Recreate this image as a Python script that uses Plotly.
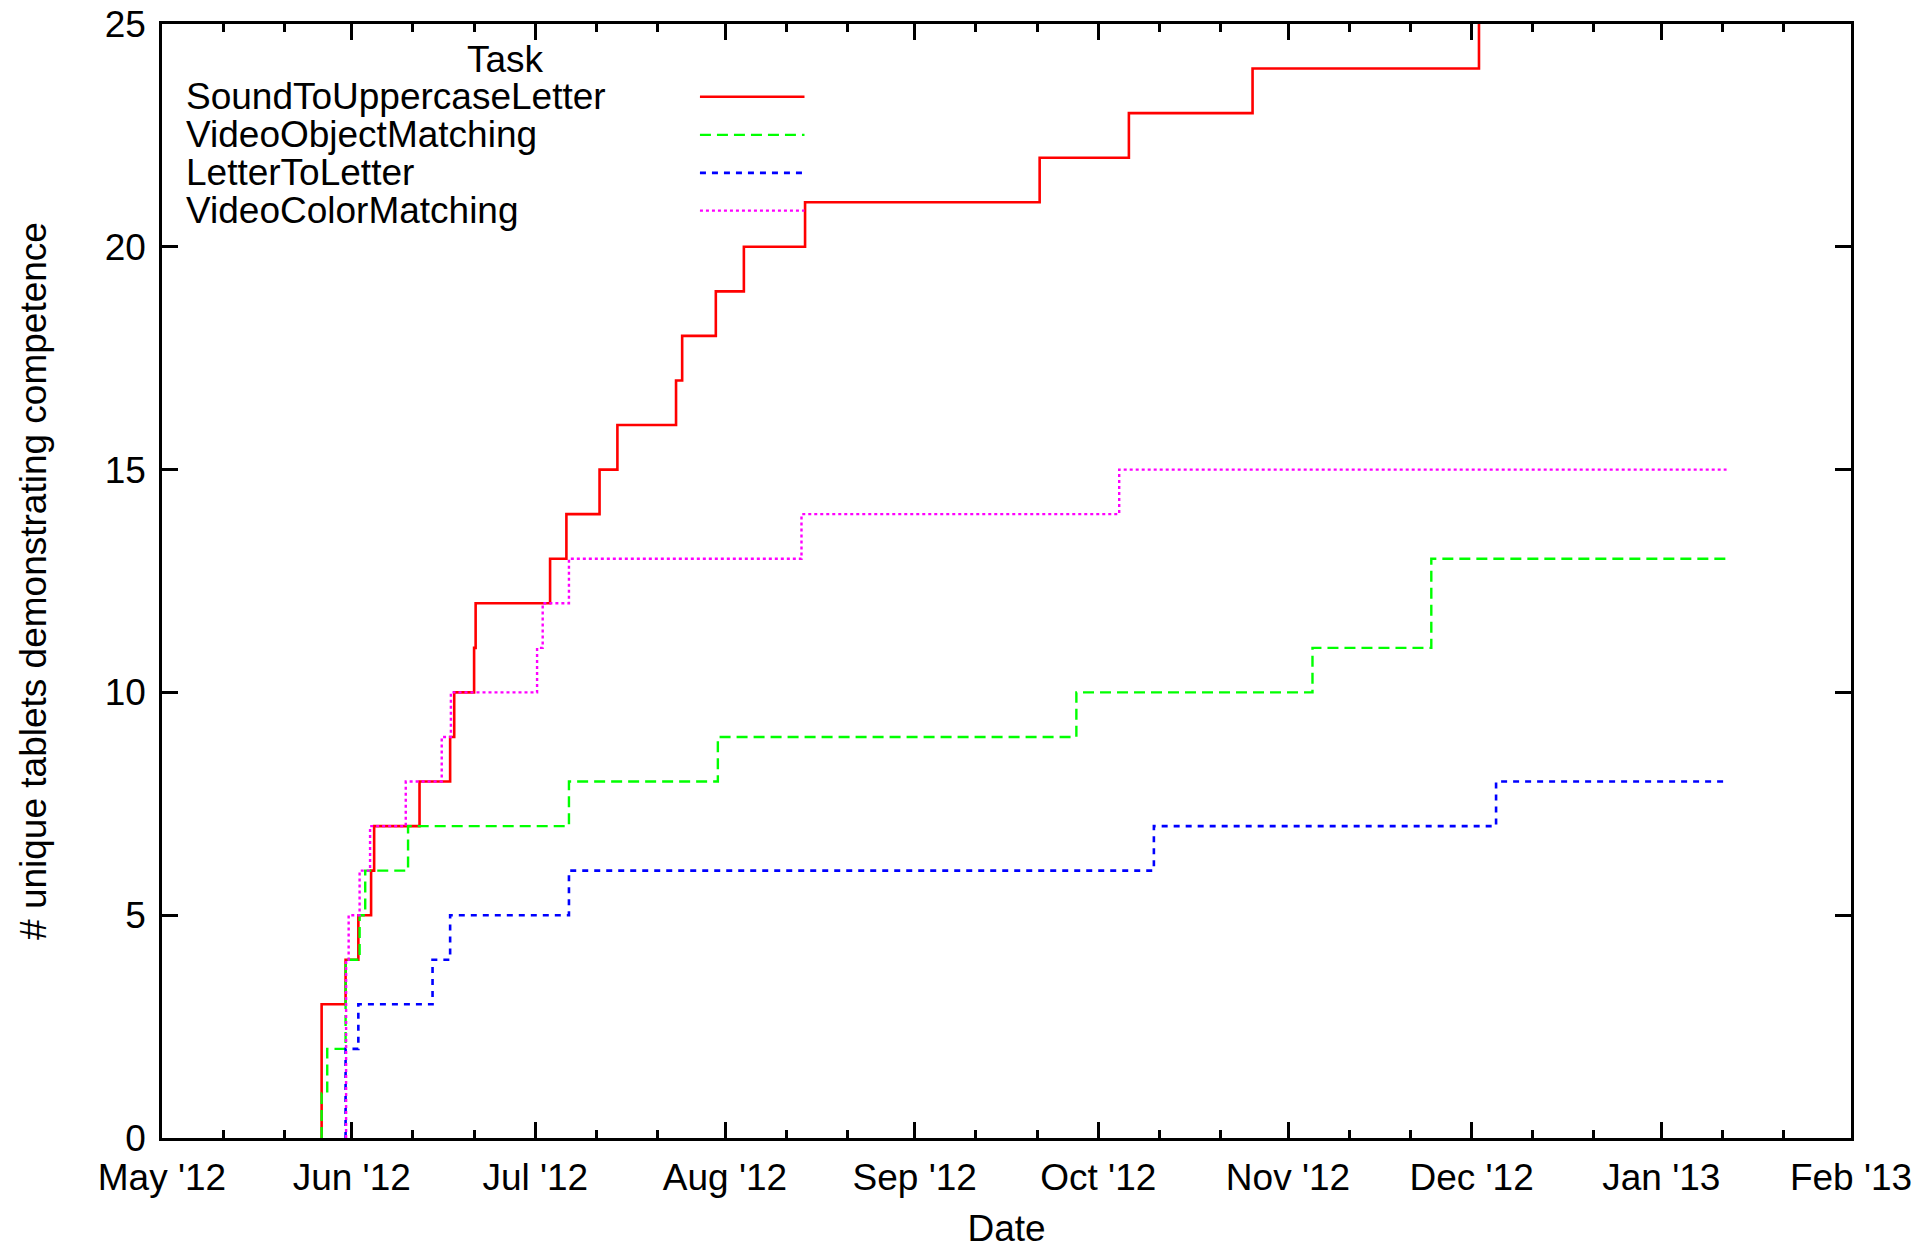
import plotly.graph_objects as go

# ---------------- data ----------------
sound_dates = ["2012-05-27 02:00", "2012-05-27 02:00", "2012-05-31 00:00", "2012-06-02 02:00",
               "2012-06-04 04:00", "2012-06-04 16:00", "2012-06-12 02:00", "2012-06-17 02:00",
               "2012-06-17 18:00", "2012-06-21 00:00", "2012-06-21 06:00", "2012-07-03 10:00",
               "2012-07-06 02:00", "2012-07-11 12:00", "2012-07-14 10:00", "2012-07-24 00:00",
               "2012-07-25 00:00", "2012-07-30 12:00", "2012-08-04 02:00", "2012-08-14 02:00",
               "2012-09-21 10:00", "2012-10-06 00:00", "2012-10-26 05:00", "2012-12-02 05:00"]
sound_vals = [0, 3, 4, 5, 6, 7, 8, 9, 10, 11, 12, 13, 14, 15, 16, 17, 18, 19, 20, 21,
              22, 23, 24, 25]

object_dates = ["2012-05-27 02:00", "2012-05-27 02:00", "2012-05-28 00:00", "2012-05-31 00:00",
                "2012-06-02 07:00", "2012-06-03 05:00", "2012-06-10 05:00", "2012-07-06 12:00",
                "2012-07-30 20:00", "2012-09-27 10:00", "2012-11-05 00:00", "2012-11-24 10:00",
                "2013-01-11 16:00"]
object_vals = [0, 1, 2, 4, 5, 6, 7, 8, 9, 10, 11, 13, 13]

letter_dates = ["2012-05-31 00:00", "2012-05-31 00:00", "2012-06-02 02:00", "2012-06-14 05:00",
                "2012-06-17 02:00", "2012-07-06 12:00", "2012-10-10 02:00", "2012-12-05 00:00",
                "2013-01-11 16:00"]
letter_vals = [0, 2, 3, 4, 5, 6, 7, 8, 8]

color_dates = ["2012-05-31 02:00", "2012-05-31 02:00", "2012-05-31 12:00", "2012-06-02 07:00",
               "2012-06-04 00:00", "2012-06-09 20:00", "2012-06-15 17:00", "2012-06-17 05:00",
               "2012-07-01 07:00", "2012-07-02 05:00", "2012-07-06 12:00", "2012-08-13 12:00",
               "2012-10-04 10:00", "2013-01-11 16:00"]
color_vals = [0, 4, 5, 6, 7, 8, 9, 10, 11, 12, 13, 14, 15, 15]

task_names = ["SoundToUppercaseLetter", "VideoObjectMatching", "LetterToLetter", "VideoColorMatching"]

month_ticks = ["2012-05-01", "2012-06-01", "2012-07-01", "2012-08-01", "2012-09-01",
               "2012-10-01", "2012-11-01", "2012-12-01", "2013-01-01", "2013-02-01"]
month_labels = ["May '12", "Jun '12", "Jul '12", "Aug '12", "Sep '12",
                "Oct '12", "Nov '12", "Dec '12", "Jan '13", "Feb '13"]
minor_ticks = ["2012-05-11", "2012-05-21", "2012-06-11", "2012-06-21", "2012-07-11", "2012-07-21",
               "2012-08-11", "2012-08-21", "2012-09-11", "2012-09-21", "2012-10-11", "2012-10-21",
               "2012-11-11", "2012-11-21", "2012-12-11", "2012-12-21", "2013-01-11", "2013-01-21"]
y_ticks = [0, 5, 10, 15, 20, 25]

# ---------------- styles ----------------
FONT = "Liberation Sans, Arial, Helvetica, sans-serif"
styles = [
    dict(color="#ff0000", dash="solid", width=2.6),
    dict(color="#00ff00", dash="11px,6px", width=2.4),
    dict(color="#0000ff", dash="6px,6px", width=2.6),
    dict(color="#ff00ff", dash="3px,3px", width=2.4),
]
series = [(sound_dates, sound_vals), (object_dates, object_vals),
          (letter_dates, letter_vals), (color_dates, color_vals)]

fig = go.Figure()
for (d, v), name, st in zip(series, task_names, styles):
    fig.add_trace(go.Scatter(x=d, y=v, mode="lines", name=name, line_shape="hv",
                             line=st, showlegend=False))

# gnuplot-like key: title, text on left, sample line on right
key_y = [0.9347, 0.9005, 0.8664, 0.8325]
annotations = [dict(text="Task", x=0.2035, y=0.9677, xref="paper", yref="paper",
                    xanchor="center", yanchor="middle", showarrow=False,
                    font=dict(family=FONT, size=37, color="black"))]
shapes = []
for name, st, ky in zip(task_names, styles, key_y):
    annotations.append(dict(text=name, x=0.0128, y=ky, xref="paper", yref="paper",
                            xanchor="left", yanchor="middle", showarrow=False,
                            font=dict(family=FONT, size=37, color="black")))
    shapes.append(dict(type="line", xref="paper", yref="paper", x0=0.3185, x1=0.3804,
                       y0=ky, y1=ky, line=dict(color=st["color"], dash=st["dash"], width=st["width"])))

annotations.append(dict(text="# unique tablets demonstrating competence", x=-0.0764, y=0.5,
                        xref="paper", yref="paper", xanchor="center", yanchor="middle",
                        textangle=-90, showarrow=False,
                        font=dict(family=FONT, size=37, color="black")))

fig.update_layout(
    width=1920, height=1249,
    margin=dict(l=162, r=69, t=24, b=111, autoexpand=False),
    paper_bgcolor="white", plot_bgcolor="white",
    font=dict(family=FONT, size=37, color="black"),
    annotations=annotations, shapes=shapes,
    xaxis=dict(type="date", range=["2012-05-01", "2013-02-01"],
               tickmode="array", tickvals=month_ticks, ticktext=month_labels,
               ticks="inside", ticklen=16, tickwidth=2.5, tickcolor="black",
               minor=dict(tickmode="array", tickvals=minor_ticks, ticks="inside",
                          ticklen=8, tickwidth=2.5, tickcolor="black", showgrid=False),
               showline=True, linecolor="black", linewidth=2.5, mirror="allticks",
               showgrid=False, zeroline=False, ticklabelstandoff=5,
               title=dict(text="Date", standoff=31, font=dict(size=37)),
               automargin=False),
    yaxis=dict(range=[0, 25], tickmode="array", tickvals=y_ticks,
               ticks="inside", ticklen=16, tickwidth=2.5, tickcolor="black",
               showline=True, linecolor="black", linewidth=2.5, mirror="allticks",
               showgrid=False, zeroline=False, ticklabelstandoff=6,
               automargin=False),
)

fig.write_html("out.html", config={"displayModeBar": False},
               post_script="document.body.style.margin='0';")
